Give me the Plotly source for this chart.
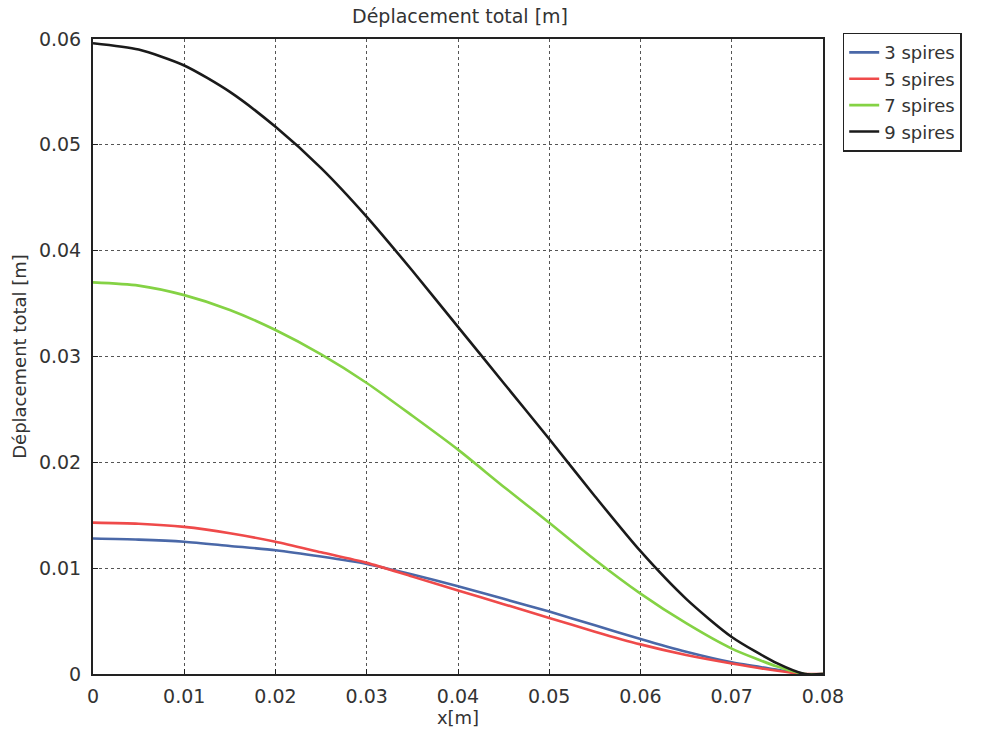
import plotly.graph_objects as go

# Position along the coil [m]
x_m = [0.0, 0.005, 0.01, 0.015, 0.02, 0.025, 0.03, 0.035, 0.04, 0.045,
       0.05, 0.055, 0.06, 0.065, 0.07, 0.075, 0.078, 0.08]

# Total displacement [m] for each number of turns
spires_3 = [0.0128, 0.0127, 0.0125, 0.0121, 0.0117, 0.0111, 0.0104, 0.0094, 0.0083, 0.0071,
            0.0059, 0.0046, 0.0033, 0.0021, 0.0011, 0.0004, 0.0, 0.0]
spires_5 = [0.0143, 0.0142, 0.0139, 0.0133, 0.0125, 0.0115, 0.0105, 0.0092, 0.0079, 0.0066,
            0.0053, 0.0040, 0.0028, 0.0018, 0.0010, 0.0003, 0.0, 0.0]
spires_7 = [0.0370, 0.0367, 0.0358, 0.0344, 0.0325, 0.0302, 0.0275, 0.0244, 0.0212, 0.0177,
            0.0143, 0.0108, 0.0076, 0.0048, 0.0024, 0.0007, 0.0, 0.0]
spires_9 = [0.0596, 0.0590, 0.0575, 0.0550, 0.0517, 0.0478, 0.0432, 0.0381, 0.0328, 0.0275,
            0.0222, 0.0168, 0.0116, 0.0071, 0.0035, 0.0010, 0.0, 0.0]

series_names = ["3 spires", "5 spires", "7 spires", "9 spires"]
series_values = [spires_3, spires_5, spires_7, spires_9]
series_colors = ["#4a68a8", "#ef4a4a", "#84d244", "#1a1a1a"]

x_ticks = [0, 0.01, 0.02, 0.03, 0.04, 0.05, 0.06, 0.07, 0.08]
x_tick_labels = ["0", "0.01", "0.02", "0.03", "0.04", "0.05", "0.06", "0.07", "0.08"]
y_ticks = [0, 0.01, 0.02, 0.03, 0.04, 0.05, 0.06]
y_tick_labels = ["0", "0.01", "0.02", "0.03", "0.04", "0.05", "0.06"]

FONT = "DejaVu Sans"
TEXT = "#333333"

fig = go.Figure()
for name, vals, col in zip(series_names, series_values, series_colors):
    fig.add_trace(go.Scatter(
        x=x_m, y=vals, mode="lines", name=name,
        line=dict(color=col, width=2.6, shape="spline", smoothing=0.7),
    ))

axis_common = dict(
    showline=True, mirror=True, linecolor="#222222", linewidth=2,
    showgrid=True, gridcolor="#555555", griddash="dot", gridwidth=1,
    ticks="inside", ticklen=5, tickcolor="#222222",
    zeroline=False,
    tickfont=dict(family=FONT, size=19, color=TEXT),
)

fig.update_layout(
    width=984, height=735,
    margin=dict(l=93, r=161, t=39, b=61),
    paper_bgcolor="white", plot_bgcolor="white",
    title=dict(text="Déplacement total [m]", x=0.4675, xanchor="center",
               y=0.978, yanchor="middle",
               font=dict(family=FONT, size=19, color=TEXT)),
    xaxis=dict(range=[0, 0.08], tickvals=x_ticks, ticktext=x_tick_labels,
               ticklabelstandoff=4,
               title=dict(text="x[m]", standoff=4,
                          font=dict(family=FONT, size=18, color=TEXT)),
               **axis_common),
    yaxis=dict(range=[0, 0.06], tickvals=y_ticks, ticktext=y_tick_labels,
               ticklabelstandoff=6,
               title=dict(text="Déplacement total [m]", standoff=8,
                          font=dict(family=FONT, size=18, color=TEXT)),
               **axis_common),
    legend=dict(x=1.027, y=1.01, xanchor="left", yanchor="top",
                bordercolor="#222222", borderwidth=1.5, bgcolor="white",
                font=dict(family=FONT, size=18, color=TEXT),
                tracegroupgap=0),
    showlegend=True,
)

fig.write_html("out.html")
